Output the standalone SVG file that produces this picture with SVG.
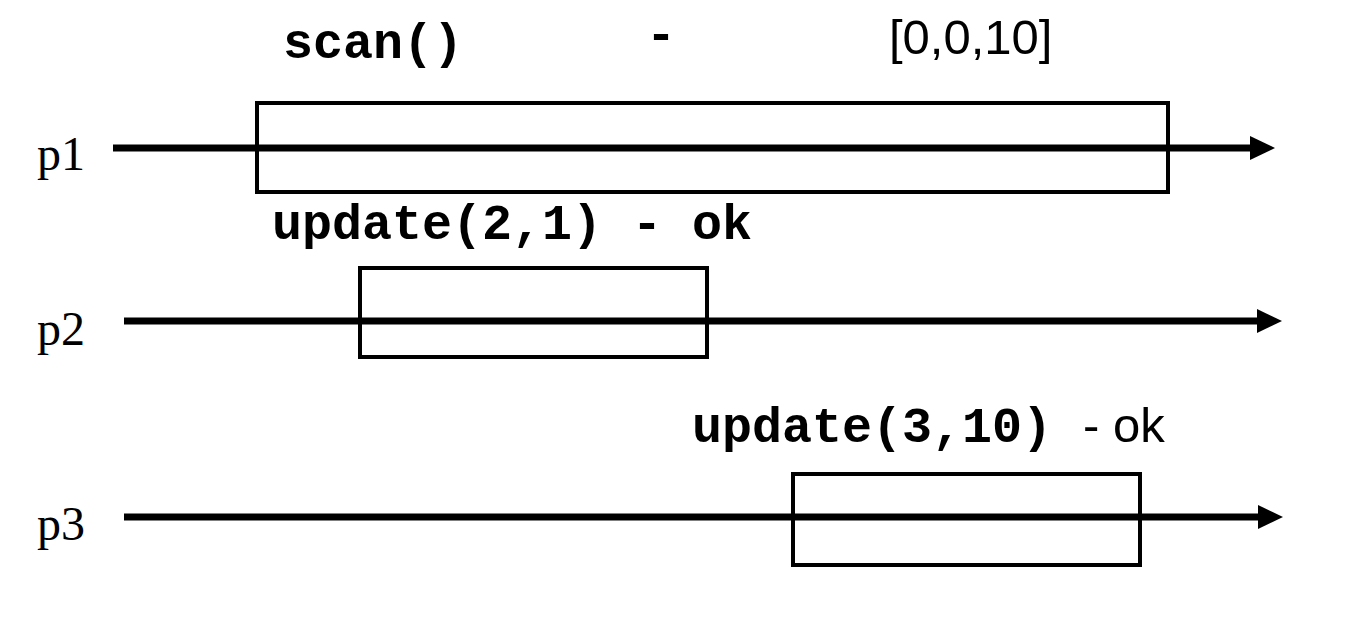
<svg xmlns="http://www.w3.org/2000/svg" width="1354" height="630" viewBox="0 0 1354 630">
<style>
.mono{font-family:"Liberation Mono","Courier New",monospace;font-weight:bold;font-size:50px;fill:#000}
.sans{font-family:"Liberation Sans",Arial,sans-serif;font-size:49px;fill:#000}
.serif{font-family:"Liberation Serif","Times New Roman",serif;font-size:48px;fill:#000}
.line{stroke:#000;stroke-width:7;fill:none}
.box{stroke:#000;stroke-width:4;fill:none}
</style>
<defs>
<marker id="arrow" markerUnits="userSpaceOnUse" markerWidth="26" markerHeight="26" refX="0" refY="12" orient="auto" viewBox="0 0 26 24">
<polygon points="0,0 25,12 0,24" fill="#000"/>
</marker>
</defs>
<rect width="1354" height="630" fill="#fff"/>
<g id="labels">
<text class="serif" x="37" y="170">p1</text>
<text class="serif" x="37" y="345">p2</text>
<text class="serif" x="37" y="540">p3</text>
</g>
<g id="connectors">
<line class="line" x1="113" y1="148" x2="1250" y2="148" marker-end="url(#arrow)"/>
<line class="line" x1="124" y1="321" x2="1257" y2="321" marker-end="url(#arrow)"/>
<line class="line" x1="124" y1="517" x2="1258" y2="517" marker-end="url(#arrow)"/>
</g>
<g id="scan">
<rect class="box" x="257" y="103" width="911" height="89"/>
<text class="mono" x="283" y="58">scan()</text>
<text class="mono" x="661" y="50" text-anchor="middle">-</text>
<text class="sans" x="889" y="54">[0,0,10]</text>
</g>
<g id="update21">
<rect class="box" x="360" y="268" width="347" height="89"/>
<text class="mono" x="272" y="239" xml:space="preserve">update(2,1) - ok</text>
</g>
<g id="update310">
<rect class="box" x="793" y="474" width="347" height="91"/>
<text class="mono" x="692" y="442">update(3,10)</text>
<text class="sans" x="1083" y="442">-</text>
<text class="sans" x="1113" y="442">ok</text>
</g>
</svg>
